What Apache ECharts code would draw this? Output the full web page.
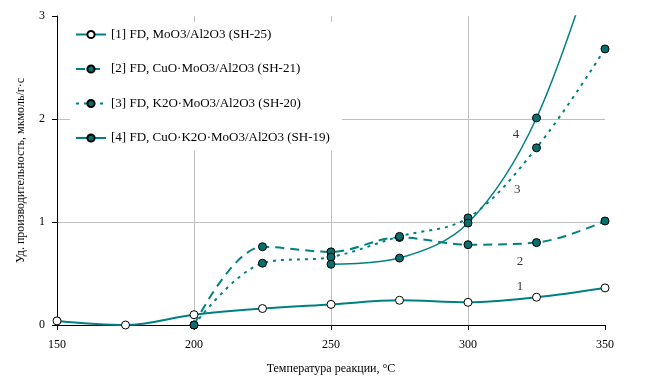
<!DOCTYPE html>
<html>
<head>
<meta charset="utf-8">
<script src="https://cdn.jsdelivr.net/npm/echarts@6/dist/echarts.min.js"></script>
<style>html,body{margin:0;padding:0;background:#fff}#c{width:646px;height:388px}</style>
</head>
<body>
<div id="c"></div>
<script>
const seriesNames = [
  '[1] FD, MoO3/Al2O3 (SH-25)',
  '[2] FD, CuO·MoO3/Al2O3 (SH-21)',
  '[3] FD, K2O·MoO3/Al2O3 (SH-20)',
  '[4] FD, CuO·K2O·MoO3/Al2O3 (SH-19)'
];
const s1 = [[150,0.04],[175,0.0],[200,0.10],[225,0.16],[250,0.20],[275,0.24],[300,0.22],[325,0.27],[350,0.36]];
const s2 = [[200,0.0],[225,0.76],[250,0.71],[275,0.85],[300,0.78],[325,0.80],[350,1.01]];
const s3 = [[200,0.0],[225,0.60],[250,0.66],[275,0.86],[300,1.04],[325,1.72],[350,2.68]];
const s4 = [[250,0.59],[275,0.65],[300,0.99],[325,2.01],[350,3.9]];
const curveLabels = [[319,0.37,'1'],[319,0.62,'2'],[318,1.31,'3'],[317.5,1.85,'4']];
const xTicks = {min:150,max:350,interval:50};
const yTicks = {min:0,max:3,interval:1};

const teal = '#008080';
const font = 'Liberation Serif';
const chart = echarts.init(document.getElementById('c'));
function lineSeries(name, data, type, width, open){
  return {
    name, type:'line', data, smooth:0.35, clip:true,
    symbol:'circle', symbolSize:8,
    lineStyle:{color:teal, width, type},
    itemStyle:{color: open ? '#ffffff' : '#0a6e6e', borderColor:'#000', borderWidth:1},
    emphasis:{disabled:true}, z:3
  };
}
chart.setOption({
  animation:false,
  textStyle:{fontFamily:font},
  grid:{left:57,right:41,top:16,bottom:63},
  legend:{
    orient:'vertical', left:70, top:22, padding:[6,12,6,5],
    backgroundColor:'#fff',
    itemWidth:30, itemHeight:9, itemGap:21.5,
    textStyle:{fontFamily:font, fontSize:13, color:'#000'},
    data:seriesNames
  },
  xAxis:{
    type:'value', min:xTicks.min, max:xTicks.max, interval:xTicks.interval,
    name:'Температура реакции, °C', nameLocation:'middle', nameGap:38,
    nameTextStyle:{fontFamily:font, fontSize:12, color:'#000'},
    axisLine:{show:true, lineStyle:{color:'#000', width:1}},
    axisTick:{show:true, length:5, lineStyle:{color:'#000'}},
    axisLabel:{fontFamily:font, fontSize:12, color:'#000', margin:14},
    splitLine:{show:true, showMinLine:false, showMaxLine:false, lineStyle:{color:'#c0c0c0', width:1}}
  },
  yAxis:{
    type:'value', min:yTicks.min, max:yTicks.max, interval:yTicks.interval,
    name:'Уд. производительность, мкмоль/г·с', nameLocation:'middle', nameGap:30,
    nameTextStyle:{fontFamily:font, fontSize:12, color:'#000'},
    axisLine:{show:true, lineStyle:{color:'#000', width:1}},
    axisTick:{show:true, length:5, lineStyle:{color:'#000'}},
    axisLabel:{fontFamily:font, fontSize:12, color:'#000', margin:12},
    splitLine:{show:true, showMinLine:false, showMaxLine:false, lineStyle:{color:'#c0c0c0', width:1}}
  },
  series:[
    lineSeries(seriesNames[0], s1, 'solid', 2, true),
    lineSeries(seriesNames[1], s2, [9,6], 2, false),
    lineSeries(seriesNames[2], s3, [3,5], 2, false),
    lineSeries(seriesNames[3], s4, 'solid', 1.5, false),
    {
      type:'scatter', data:curveLabels.map(d=>[d[0],d[1],d[2]]), symbolSize:0, silent:true,
      label:{show:true, position:'inside', formatter:p=>p.data[2], fontFamily:font, fontSize:13, color:'#000'},
      z:5
    }
  ]
});
</script>
</body>
</html>
